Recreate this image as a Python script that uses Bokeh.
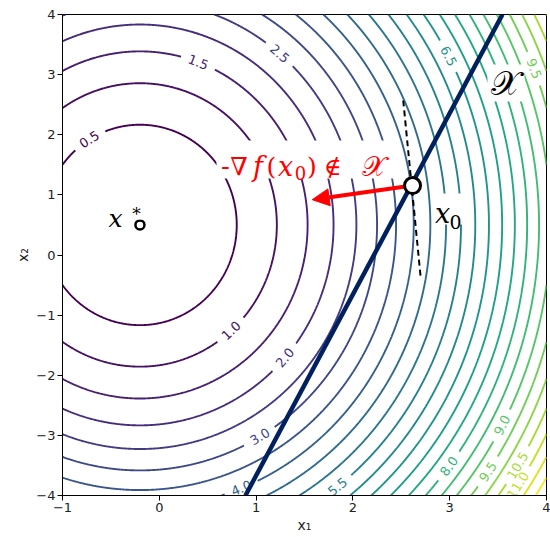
import numpy as np
import contourpy
from bokeh.plotting import figure
from bokeh.models import (Range1d, FixedTicker, Label, Arrow, NormalHead,
                          BoxAnnotation, CustomJSTickFormatter)
from bokeh.palettes import Viridis256
from bokeh.core.properties import value
from bokeh.embed import file_html
from bokeh.resources import INLINE

# ---------------- data ----------------
# quadratic objective f(x) = c1*(x1 - x*_1)^2 + c2*(x2 - x*_2)^2
x_star = [-0.2, 0.5]
curvature = [0.5, 0.18]
levels = [0.5, 1.0, 1.5, 2.0, 2.5, 3.0, 3.5, 4.0, 4.5, 5.0, 5.5, 6.0,
          6.5, 7.0, 7.5, 8.0, 8.5, 9.0, 9.5, 10.0, 10.5, 11.0, 11.5, 12.0]

label_text = ["0.5", "1.0", "1.5", "2.0", "2.5", "3.0", "4.0", "5.5", "6.5",
              "8.0", "9.0", "9.5", "9.5", "10.5", "11.0"]
label_level = [0.5, 1.0, 1.5, 2.0, 2.5, 3.0, 4.0, 5.5, 6.5,
               8.0, 9.0, 9.5, 9.5, 10.5, 11.0]
label_x1 = [-0.73, 0.76, 0.40, 1.30, 1.25, 1.05, 0.84, 1.84, 2.99,
            2.99, 3.56, 3.89, 3.39, 3.71, 3.68]
label_x2 = [1.94, -1.29, 3.20, -1.71, 3.36, -3.05, -3.85, -3.85, 3.31,
            -3.51, -2.85, 3.11, -3.60, -3.51, -3.80]

x0 = [2.616, 1.155]
constraint_x1 = [0.89, 3.545]
constraint_x2 = [-4.0, 4.0]
tangent_x1 = [2.52, 2.70]
tangent_x2 = [2.57, -0.37]
arrow_tip = [1.58, 0.92]

x_ticks = [-1, 0, 1, 2, 3, 4]
y_ticks = [-4, -3, -2, -1, 0, 1, 2, 3, 4]
x_lim = [-1, 4]
y_lim = [-4, 4]

# ---------------- layout ----------------
W, H = 550, 537
ML, MR, MT, MB = 62, 4, 14, 42
FW, FH = W - ML - MR, H - MT - MB
sx = FW / (x_lim[1] - x_lim[0])
sy = FH / (y_lim[1] - y_lim[0])


def f(a, b):
    return curvature[0] * (a - x_star[0]) ** 2 + curvature[1] * (b - x_star[1]) ** 2


def color_of(L):
    t = (L - levels[0]) / (levels[-1] - levels[0])
    return Viridis256[int(round(t * 255))]


def px_to_x(px):
    return x_lim[0] + (px - ML) / sx


def py_to_y(py):
    return y_lim[1] - (py - MT) / sy


p = figure(width=W, height=H, x_range=Range1d(*x_lim), y_range=Range1d(*y_lim),
           output_backend="svg", toolbar_location=None,
           min_border_left=ML, min_border_right=MR, min_border_top=MT,
           min_border_bottom=MB)
p.xgrid.visible = False
p.ygrid.visible = False
p.outline_line_color = "black"
p.outline_line_width = 1
p.background_fill_color = "white"

# label positions snapped on their level curve, plus rotation
lab_x, lab_y, lab_ang, lab_col, lab_r = [], [], [], [], []
for t, L, a, b in zip(label_text, label_level, label_x1, label_x2):
    s = np.sqrt(L / f(a, b))
    a2 = x_star[0] + (a - x_star[0]) * s
    b2 = x_star[1] + (b - x_star[1]) * s
    gx = 2 * curvature[0] * (a2 - x_star[0])
    gy = 2 * curvature[1] * (b2 - x_star[1])
    ang = np.arctan2(gx * sy, -gy * sx)
    if ang > np.pi / 2:
        ang -= np.pi
    if ang < -np.pi / 2:
        ang += np.pi
    lab_x.append(a2)
    lab_y.append(b2)
    lab_ang.append(ang)
    lab_col.append(color_of(L))
    lab_r.append(len(t) * 4.2 + 5)

# contour lines with gaps for labels
gx_ = np.linspace(x_lim[0], x_lim[1], 601)
gy_ = np.linspace(y_lim[0], y_lim[1], 801)
X, Y = np.meshgrid(gx_, gy_)
Z = f(X, Y)
gen = contourpy.contour_generator(gx_, gy_, Z, line_type="Separate")
xs, ys, cols = [], [], []
for L in levels:
    for seg in gen.lines(L):
        keep = np.ones(len(seg), dtype=bool)
        for j, LL in enumerate(label_level):
            if abs(LL - L) < 1e-9:
                d = np.hypot((seg[:, 0] - lab_x[j]) * sx, (seg[:, 1] - lab_y[j]) * sy)
                keep &= d > lab_r[j]
        idx = np.flatnonzero(keep)
        if len(idx) == 0:
            continue
        breaks = np.flatnonzero(np.diff(idx) > 1)
        starts = np.concatenate([[0], breaks + 1])
        ends = np.concatenate([breaks + 1, [len(idx)]])
        for s0, e0 in zip(starts, ends):
            run = idx[s0:e0]
            if len(run) >= 2:
                xs.append(seg[run, 0].tolist())
                ys.append(seg[run, 1].tolist())
                cols.append(color_of(L))

p.multi_line(xs, ys, line_color=cols, line_width=1.9)
p.text(lab_x, lab_y, text=label_text, angle=lab_ang, text_color=lab_col,
       text_font=value("DejaVu Sans"), text_font_size="13px",
       text_align="center", text_baseline="middle")

# constraint line and tangent
p.line(constraint_x1, constraint_x2, line_color="#01215e", line_width=4.5)
p.line(tangent_x1, tangent_x2, line_color="black", line_width=2, line_dash="6 4")

# x* marker
p.scatter([x_star[0]], [x_star[1]], size=9, fill_color="white",
          line_color="black", line_width=2.5)

# arrow
p.add_layout(Arrow(end=NormalHead(size=17, fill_color="red", line_color="red", line_width=1),
                   x_start=x0[0], y_start=x0[1], x_end=arrow_tip[0], y_end=arrow_tip[1],
                   line_color="red", line_width=4))


# text boxes
def box(l, r, t, b):
    return BoxAnnotation(left=px_to_x(l), right=px_to_x(r), top=py_to_y(t), bottom=py_to_y(b),
                         fill_color="white", fill_alpha=1.0, line_color=None, level="annotation")


p.add_layout(box(216, 398, 140, 178))
p.add_layout(box(432, 465, 193, 224))
p.add_layout(box(487, 524, 64, 101))
p.add_layout(box(104, 142, 198, 219))


def piece(txt, cx, base, size, color="black"):
    p.add_layout(Label(x=px_to_x(cx), y=py_to_y(base), text=txt, text_color=color,
                       text_font="DejaVu Serif", text_font_size=f"{size}px",
                       text_align="center", text_baseline="alphabetic"))


# red annotation  -∇f(x0) ∉ X
red = "#ff0000"
piece("-", 225, 165, 26, red)
piece("∇", 238.5, 166, 25, red)
piece("𝑓", 257.5, 166, 27, red)
piece("(", 271, 166, 25, red)
piece("𝑥", 285, 166, 27, red)
piece("0", 300, 172, 18, red)
piece(")", 311.5, 166, 25, red)
piece("∉", 332.5, 166, 24, red)
piece("𝒳", 373.5, 166, 28, red)

# x*
piece("𝑥", 115, 218, 25)
piece("*", 136, 213, 17)
# x0
piece("𝑥", 442, 213, 27)
piece("0", 455, 221, 19)
# feasible set
p.add_layout(Label(x=px_to_x(505), y=py_to_y(82), text="𝒳", text_color="black",
                   text_font="DejaVu Serif", text_font_size="34px",
                   text_align="center", text_baseline="middle"))

# x0 marker on top
r0 = p.scatter([x0[0]], [x0[1]], size=16, fill_color="white",
               line_color="black", line_width=3)
r0.level = "overlay"

# axes
fmt = CustomJSTickFormatter(code="return tick < 0 ? '\u2212' + Math.abs(tick) : tick.toString();")
for ax, ticks, lab in ((p.xaxis, x_ticks, "x₁"), (p.yaxis, y_ticks, "x₂")):
    ax.ticker = FixedTicker(ticks=ticks)
    ax.formatter = fmt
    ax.axis_label = lab
    ax.axis_label_text_font = "DejaVu Sans"
    ax.axis_label_text_font_size = "14px"
    ax.axis_label_text_font_style = "normal"
    ax.axis_label_text_color = "#222222"
    ax.major_label_text_font = "DejaVu Sans"
    ax.major_label_text_font_size = "13px"
    ax.major_label_text_color = "#222222"
    ax.minor_tick_line_color = None
    ax.major_tick_in = 0
    ax.major_tick_out = 5
    ax.major_tick_line_color = "black"
    ax.axis_line_color = "black"
    ax.major_label_standoff = 2
    ax.axis_label_standoff = 2

open("out.html", "w").write(file_html(p, INLINE))
